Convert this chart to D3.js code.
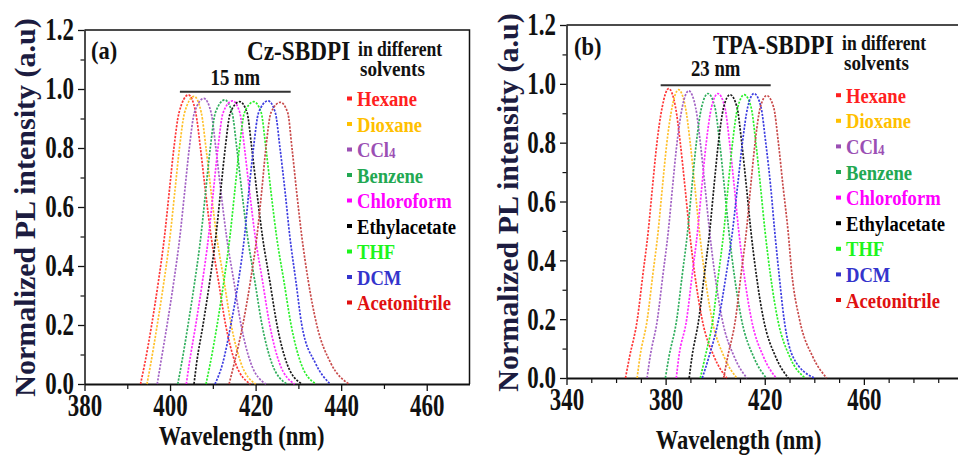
<!DOCTYPE html>
<html>
<head>
<meta charset="utf-8">
<script src="https://cdn.jsdelivr.net/npm/d3@7"></script>
<style>
  body { margin: 0; background: #fff; }
</style>
</head>
<body>
<svg id="chart" width="958" height="455"></svg>
<script>
const solvents = ['Hexane', 'Dioxane', 'CCl4', 'Benzene', 'Chloroform', 'Ethylacetate', 'THF', 'DCM', 'Acetonitrile'];
const curveColors = ['#ff3636', '#ffc02a', '#a262c4', '#2fae5c', '#ff2cff', '#1a1a1a', '#2af02a', '#3c3ce0', '#c84a4a'];
const legendColors = ['#ff2020', '#ffc000', '#9b4fb4', '#22a852', '#ff00ff', '#000000', '#1cf51c', '#3434cc', '#e01010'];

const levels = [0, 0.07, 0.2, 0.35, 0.5, 0.65, 0.8, 0.92];

// (a) Cz-SBDPI
const czPeakWl = [404.3, 405.6, 407.9, 412.8, 414.6, 416.3, 419.6, 422.9, 425.8];
const czPeakInt = [0.98, 0.975, 0.968, 0.963, 0.96, 0.957, 0.957, 0.96, 0.955];
const czRise = [
    [393.1, 394.1, 395.7, 397.3, 398.7, 399.8, 400.9, 402.1],
    [394.6, 395.5, 397.0, 398.6, 400.0, 401.1, 402.2, 403.4],
    [397.0, 397.8, 399.3, 400.9, 402.3, 403.4, 404.5, 405.7],
    [401.8, 402.7, 404.2, 405.8, 407.2, 408.3, 409.4, 410.6],
    [403.8, 404.5, 406.0, 407.6, 409.0, 410.1, 411.2, 412.4],
    [405.6, 406.2, 407.7, 409.3, 410.7, 411.8, 412.9, 414.1],
    [408.4, 409.4, 411.0, 412.6, 414.0, 415.1, 416.2, 417.4],
    [410.5, 412.3, 414.2, 416.0, 417.4, 418.4, 419.5, 420.7],
    [413.8, 415.0, 417.0, 418.8, 420.3, 421.4, 422.4, 423.6]
];
const czFall = [
    [418.8, 415.3, 413.0, 411.3, 409.6, 408.3, 407.1, 406.0],
    [420.0, 416.6, 414.3, 412.6, 410.9, 409.6, 408.4, 407.3],
    [422.4, 418.9, 416.6, 414.9, 413.2, 411.9, 410.7, 409.6],
    [427.3, 423.8, 421.5, 419.8, 418.1, 416.8, 415.6, 414.5],
    [429.1, 425.6, 423.3, 421.6, 419.9, 418.6, 417.4, 416.3],
    [430.8, 427.3, 425.0, 423.3, 421.6, 420.3, 419.1, 418.0],
    [434.1, 430.6, 428.3, 426.6, 424.9, 423.6, 422.4, 421.3],
    [437.4, 434.0, 430.8, 429.4, 428.0, 426.9, 425.7, 424.6],
    [441.8, 437.6, 434.3, 432.3, 430.8, 429.6, 428.5, 427.5]
];

// (b) TPA-SBDPI
const tpaPeakWl = [381.2, 385.2, 389.3, 397.1, 401.1, 406.0, 411.7, 415.7, 420.8];
const tpaPeakInt = [0.984, 0.98, 0.976, 0.967, 0.967, 0.963, 0.963, 0.967, 0.96];
const tpaRise = [
    [363.8, 365.4, 368.6, 370.8, 373.0, 374.7, 376.5, 378.6],
    [368.5, 369.6, 372.6, 374.8, 377.0, 378.7, 380.5, 382.6],
    [372.5, 373.7, 376.7, 378.9, 381.1, 382.8, 384.6, 386.7],
    [379.9, 381.3, 384.5, 386.7, 388.9, 390.6, 392.4, 394.5],
    [384.3, 385.3, 388.5, 390.7, 392.9, 394.6, 396.4, 398.5],
    [389.5, 390.6, 393.4, 395.6, 397.8, 399.5, 401.3, 403.4],
    [394.0, 395.9, 399.1, 401.3, 403.5, 405.2, 407.0, 409.1],
    [394.8, 397.4, 401.4, 404.4, 407.0, 409.0, 411.0, 413.1],
    [403.4, 405.0, 408.2, 410.4, 412.6, 414.3, 416.1, 418.2]
];
const tpaFall = [
    [404.7, 399.7, 394.7, 391.8, 389.6, 387.8, 385.9, 384.0],
    [408.7, 403.7, 398.7, 395.8, 393.6, 391.8, 389.9, 388.0],
    [412.8, 407.8, 402.8, 399.9, 397.7, 395.9, 394.0, 392.1],
    [420.6, 415.6, 410.6, 407.7, 405.5, 403.7, 401.8, 399.9],
    [424.6, 419.6, 414.6, 411.7, 409.5, 407.7, 405.8, 403.9],
    [429.5, 424.5, 419.5, 416.6, 414.4, 412.6, 410.7, 408.8],
    [436.2, 430.2, 425.2, 422.3, 420.1, 418.3, 416.4, 414.5],
    [440.0, 431.5, 427.8, 425.8, 424.0, 422.4, 420.4, 418.5],
    [445.0, 439.5, 434.0, 431.0, 429.4, 427.4, 425.5, 423.6]
];

// shift bars (wavelength range, level)
const czBar = [402.3, 428.2, 0.991];
const tpaBar = [378.0, 422.4, 0.995];

const yTicks = [0, 0.2, 0.4, 0.6, 0.8, 1.0, 1.2];
const yMinorTicks = [0.1, 0.3, 0.5, 0.7, 0.9, 1.1];
const czXTicks = [380, 400, 420, 440, 460];
const czXMinorTicks = [390, 410, 430, 450];
const tpaXTicks = [340, 380, 420, 460];
const tpaXMinorTicks = [350, 360, 370, 390, 400, 410, 430, 440, 450, 470, 480, 490];

const FONT = '"Liberation Serif", "Times New Roman", serif';
const svg = d3.select('#chart');

const serif = sel => sel.style('font-family', FONT).style('font-weight', 'bold');

const txt = (x, y, s, size, sx, color, anchor = 'start') => svg.append('text')
    .attr('transform', `translate(${x},${y}) scale(${sx},1)`)
    .attr('font-size', size)
    .attr('fill', color)
    .attr('text-anchor', anchor)
    .call(serif)
    .text(s);

function spectrum(i, rise, fall, peakWl, peakInt) {
    const pts = levels.map((l, k) => [rise[i][k], l]);
    pts.push([peakWl[i], peakInt[i]]);
    for (let k = levels.length - 1; k >= 0; k--) pts.push([fall[i][k], levels[k]]);
    return pts;
}

function drawPanel(p) {
    const x = d3.scaleLinear().domain(p.xDomain).range([p.left, p.right]);
    const y = d3.scaleLinear().domain([0, 1.2]).range([p.bottom, p.top]);
    const g = svg.append('g');

    // frame top + right
    g.append('path')
        .attr('d', `M${p.left},${p.top}H${p.right}V${p.bottom}`)
        .attr('fill', 'none')
        .attr('stroke', '#111')
        .attr('stroke-width', 1.5);

    const yAxis = g.append('g')
        .attr('transform', `translate(${p.left},0)`)
        .call(d3.axisLeft(y).tickValues(yTicks).tickSize(6.5).tickSizeOuter(0).tickFormat(d3.format('.1f')));
    yAxis.select('.domain').attr('stroke', '#111').attr('stroke-width', 1.5);
    yAxis.selectAll('line').attr('stroke', '#111').attr('stroke-width', 1.3);
    yAxis.selectAll('text')
        .attr('font-size', 31)
        .attr('fill', '#111')
        .attr('x', -10.5 / 0.74)
        .attr('transform', 'scale(0.74,1)')
        .call(serif);

    g.append('g')
        .attr('transform', `translate(${p.left},0)`)
        .call(d3.axisLeft(y).tickValues(yMinorTicks).tickSize(4).tickFormat(''))
        .call(a => a.select('.domain').remove())
        .selectAll('line').attr('stroke', '#111').attr('stroke-width', 1.2);

    const xAxis = g.append('g')
        .attr('transform', `translate(0,${p.bottom})`)
        .call(d3.axisBottom(x).tickValues(p.xTicks).tickSize(7).tickSizeOuter(0).tickFormat(d3.format('d')));
    xAxis.select('.domain').attr('stroke', '#111').attr('stroke-width', 1.8);
    xAxis.selectAll('line').attr('stroke', '#111').attr('stroke-width', 1.3);
    xAxis.selectAll('text')
        .attr('font-size', 31)
        .attr('fill', '#111')
        .attr('y', 32.5)
        .attr('dy', 0)
        .attr('transform', 'scale(0.74,1)')
        .attr('x', 0)
        .call(serif);

    g.append('g')
        .attr('transform', `translate(0,${p.bottom})`)
        .call(d3.axisBottom(x).tickValues(p.xMinor).tickSize(5).tickFormat(''))
        .call(a => a.select('.domain').remove())
        .selectAll('line').attr('stroke', '#111').attr('stroke-width', 1.2);

    // spectra
    const line = d3.line().x(d => x(d[0])).y(d => y(d[1])).curve(d3.curveMonotoneX);
    solvents.forEach((s, i) => {
        g.append('path')
            .datum(spectrum(i, p.rise, p.fall, p.peakWl, p.peakInt))
            .attr('d', line)
            .attr('fill', 'none')
            .attr('stroke', curveColors[i])
            .attr('stroke-width', 1.7)
            .attr('stroke-dasharray', '2.2,1.4');
    });

    // shift bar
    g.append('line')
        .attr('x1', x(p.bar[0])).attr('x2', x(p.bar[1]))
        .attr('y1', y(p.bar[2])).attr('y2', y(p.bar[2]))
        .attr('stroke', '#333')
        .attr('stroke-width', 2);
    txt((x(p.bar[0]) + x(p.bar[1])) / 2, p.barLabelY, p.barLabel, 24, 0.78, '#111', 'middle');

    // legend
    solvents.forEach((s, i) => {
        const by = p.legendY + i * p.legendStep;
        svg.append('rect')
            .attr('x', p.markerX).attr('y', by - 9.5)
            .attr('width', 5).attr('height', 4)
            .attr('fill', legendColors[i]);
        const t = txt(p.legendX, by, '', 20, 0.93, legendColors[i]);
        if (s === 'CCl4') {
            t.append('tspan').text('CCl');
            t.append('tspan').attr('font-size', 14).attr('dy', 1).text('4');
        } else {
            t.text(s);
        }
    });

    // titles
    txt(p.tagX, p.tagY, p.tag, 25, 0.9, '#111');
    txt(p.nameX, p.nameY, p.name, 27, 0.86, '#111');
    txt(p.inX, p.inY, 'in different', 22, 0.8, '#111');
    txt(p.inX + 2, p.inY + 20, 'solvents', 22, 0.87, '#111');

    // axis titles
    txt(p.xLabelX, p.xLabelY, 'Wavelength (nm)', 27, 0.835, '#111', 'middle');
    svg.append('text')
        .attr('transform', `translate(${p.yLabelX},${p.yLabelY}) rotate(-90)`)
        .attr('font-size', 30)
        .attr('fill', '#1c1c40')
        .attr('text-anchor', 'middle')
        .call(serif)
        .text('Normalized PL intensity (a.u)');
}

drawPanel({
    xDomain: [380, 470], left: 84.5, right: 469.5, top: 30, bottom: 384,
    xTicks: czXTicks, xMinor: czXMinorTicks,
    rise: czRise, fall: czFall, peakWl: czPeakWl, peakInt: czPeakInt,
    bar: czBar, barLabel: '15 nm', barLabelY: 85,
    legendX: 357, markerX: 347, legendY: 106, legendStep: 25.5,
    tag: '(a)', tagX: 91, tagY: 59,
    name: 'Cz-SBDPI', nameX: 247, nameY: 59.5,
    inX: 358, inY: 56,
    xLabelX: 241.7, xLabelY: 445,
    yLabelX: 35, yLabelY: 207.5
});

drawPanel({
    xDomain: [340, 500], left: 566.5, right: 963, top: 25, bottom: 378,
    xTicks: tpaXTicks, xMinor: tpaXMinorTicks,
    rise: tpaRise, fall: tpaFall, peakWl: tpaPeakWl, peakInt: tpaPeakInt,
    bar: tpaBar, barLabel: '23 nm', barLabelY: 76,
    legendX: 846, markerX: 836, legendY: 102.7, legendStep: 25.6,
    tag: '(b)', tagX: 574, tagY: 55,
    name: 'TPA-SBDPI', nameX: 713, nameY: 53.5,
    inX: 842, inY: 50,
    xLabelX: 738.7, xLabelY: 449,
    yLabelX: 518, yLabelY: 202.5
});
</script>
</body>
</html>
